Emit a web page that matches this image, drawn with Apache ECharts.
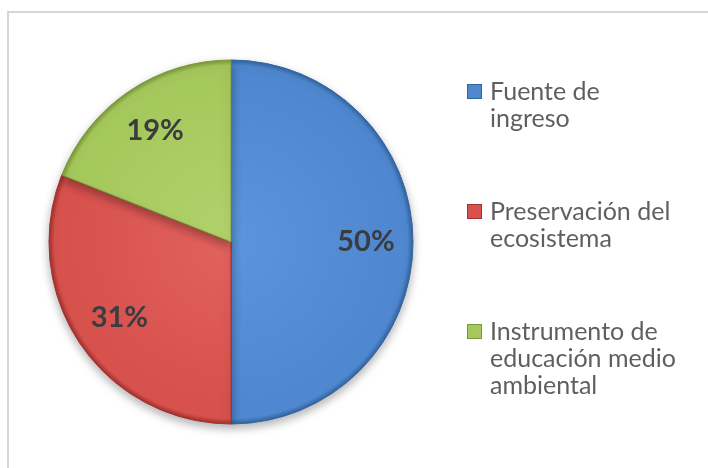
<!DOCTYPE html>
<html>
<head>
<meta charset="utf-8">
<script src="https://cdn.jsdelivr.net/npm/echarts@6/dist/echarts.min.js"></script>
<style>
    html, body {margin: 0; padding: 0; background: #ffffff;}
    #frame {position: absolute; left: 7px; top: 11px; width: 720px; height: 480px;
        border-top: 2px solid #d6d6d6; border-left: 2px solid #d6d6d6;}
    #pieChart {position: absolute; left: 0; top: 0; width: 708px; height: 468px;}
</style>
</head>
<body>
<div id="frame"></div>
<div id="pieChart"></div>
<script>
// 数据
var categories = ['Fuente de ingreso', 'Preservación del ecosistema', 'Instrumento de educación medio ambiental'];
var legendLines = [['Fuente de', 'ingreso'], ['Preservación del', 'ecosistema'], ['Instrumento de', 'educación medio', 'ambiental']];
var values = [50, 31, 19];

// 颜色 [亮, 主, 暗]
var sliceColors = [
    ['#5C95DB', '#4F88D0', '#33649F'],
    ['#E2625E', '#D7514D', '#A3302D'],
    ['#B2D26C', '#A5C85C', '#7A9838']
];

var cx = 231, cy = 242, R = 182;

var myChart = echarts.init(document.getElementById('pieChart'));

function sliceFill(c) {
    return {
        type: 'radial', x: cx, y: cy, r: R, global: true,
        colorStops: [
            {offset: 0, color: c[0]},
            {offset: 0.88, color: c[1]},
            {offset: 0.97, color: c[1]},
            {offset: 1, color: c[2]}
        ]
    };
}

var pieData = [];
var labelData = [];
for (var i = 0; i < categories.length; i++) {
    pieData.push({
        value: values[i], name: categories[i],
        itemStyle: {color: sliceFill(sliceColors[i]), borderColor: sliceColors[i][2]}
    });
    labelData.push({value: values[i], name: categories[i]});
}

// 图例富文本
var rich = {
    sp: {width: 13, height: 27, lineHeight: 27},
    t: {fontFamily: 'Lato', fontSize: 25, color: '#5f5f5f', lineHeight: 27, padding: [0, 0, 0, 9]}
};
for (var k = 0; k < categories.length; k++) {
    rich['m' + k] = {width: 13, height: 13, lineHeight: 27, backgroundColor: sliceColors[k][1],
        borderColor: sliceColors[k][2], borderWidth: 1};
}

myChart.setOption({
    animation: false,
    legend: {
        orient: 'vertical',
        left: 458,
        top: 74,
        itemGap: 67,
        itemWidth: 0,
        itemHeight: 14,
        icon: 'rect',
        itemStyle: {opacity: 0, borderWidth: 0},
        selectedMode: false,
        data: categories,
        formatter: function (name) {
            var idx = categories.indexOf(name);
            return legendLines[idx].map(function (line, j) {
                return (j === 0 ? '{m' + idx + '|}' : '{sp|}') + '{t|' + line + '}';
            }).join('\n');
        },
        textStyle: {rich: rich}
    },
    series: [
        {
            // 饼图
            name: 'pie',
            type: 'pie',
            center: [cx, cy],
            radius: [0, R],
            startAngle: 90,
            clockwise: true,
            silent: true,
            label: {show: false},
            labelLine: {show: false},
            itemStyle: {
                borderWidth: 1,
                shadowBlur: 10,
                shadowOffsetY: 4,
                shadowColor: 'rgba(0,0,0,0.3)'
            },
            data: pieData
        },
        {
            // 百分比标签
            name: 'labels',
            type: 'pie',
            center: [cx, cy],
            radius: [R * 0.45, R],
            startAngle: 90,
            clockwise: true,
            silent: true,
            itemStyle: {color: 'rgba(0,0,0,0)'},
            labelLine: {show: false},
            label: {
                show: true,
                position: 'inside',
                formatter: '{d}%',
                fontFamily: 'Lato',
                fontWeight: 'bold',
                fontSize: 29,
                color: '#3a3c40'
            },
            data: labelData
        }
    ]
});
</script>
</body>
</html>
